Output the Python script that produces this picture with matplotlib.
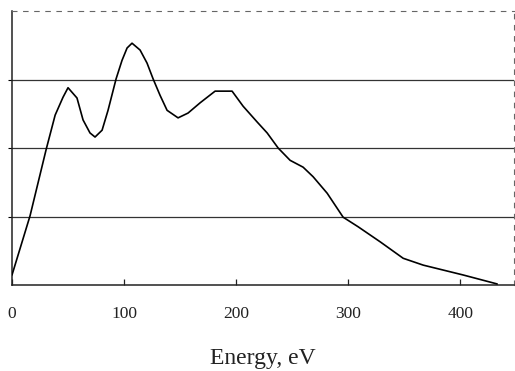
import matplotlib
matplotlib.use("Agg")
import matplotlib.pyplot as plt

energy = [0, 16.1, 30.5, 38.5, 45.5, 50, 58, 63.4, 69.6, 74.1, 80.4, 85.7,
          92.9, 98.2, 102.7, 107.1, 114.3, 120.5, 125.9, 132.1, 138.4, 148.2,
          157.1, 167.9, 181.25, 196.4, 206.25, 218.75, 227.7, 237.5, 248.2,
          259.8, 268.75, 281.25, 295.5, 308.9, 328.6, 349.1, 367, 402.7, 433]
intensity = [0.146, 1.01, 1.98, 2.48, 2.74, 2.88, 2.73, 2.41, 2.22, 2.16, 2.26,
             2.55, 3.01, 3.28, 3.46, 3.53, 3.43, 3.24, 3.01, 2.77, 2.55, 2.44,
             2.51, 2.66, 2.83, 2.83, 2.61, 2.38, 2.22, 2.0, 1.82, 1.72, 1.58,
             1.34, 0.99, 0.85, 0.63, 0.39, 0.29, 0.146, 0.015]
x_ticks = [0, 100, 200, 300, 400]
grid_levels = [1, 2, 3]

plt.rcParams['font.family'] = ['Liberation Serif', 'DejaVu Serif']
fig = plt.figure(figsize=(5.15, 3.71), dpi=100)
ax = fig.add_axes([12/515, 1-285/371, (514-12)/515, (285-11)/371])

for g in grid_levels:
    ax.axhline(g, color='#333333', lw=0.9, zorder=1)

ax.plot(energy, intensity, color='black', lw=1.2, zorder=3,
        solid_joinstyle='round', solid_capstyle='round')

ax.set_xlim(0, 448)
ax.set_ylim(0, 4)
ax.set_xticks(x_ticks)
ax.set_yticks(grid_levels)
ax.set_yticklabels([])
ax.tick_params(axis='x', direction='in', length=4, width=0.9, pad=15,
               labelsize=12.5, colors='#222222')
ax.tick_params(axis='y', direction='out', length=3, width=0.8)

for s in ['left', 'bottom']:
    ax.spines[s].set_color('#222222')
    ax.spines[s].set_linewidth(1.1)
for s in ['top', 'right']:
    ax.spines[s].set_color('#666666')
    ax.spines[s].set_linewidth(0.8)
    ax.spines[s].set_linestyle((0, (4, 6)))

ax.set_xlabel('Energy, eV', fontsize=17, labelpad=19, color='#222222')

fig.savefig('out.png', dpi=100)
